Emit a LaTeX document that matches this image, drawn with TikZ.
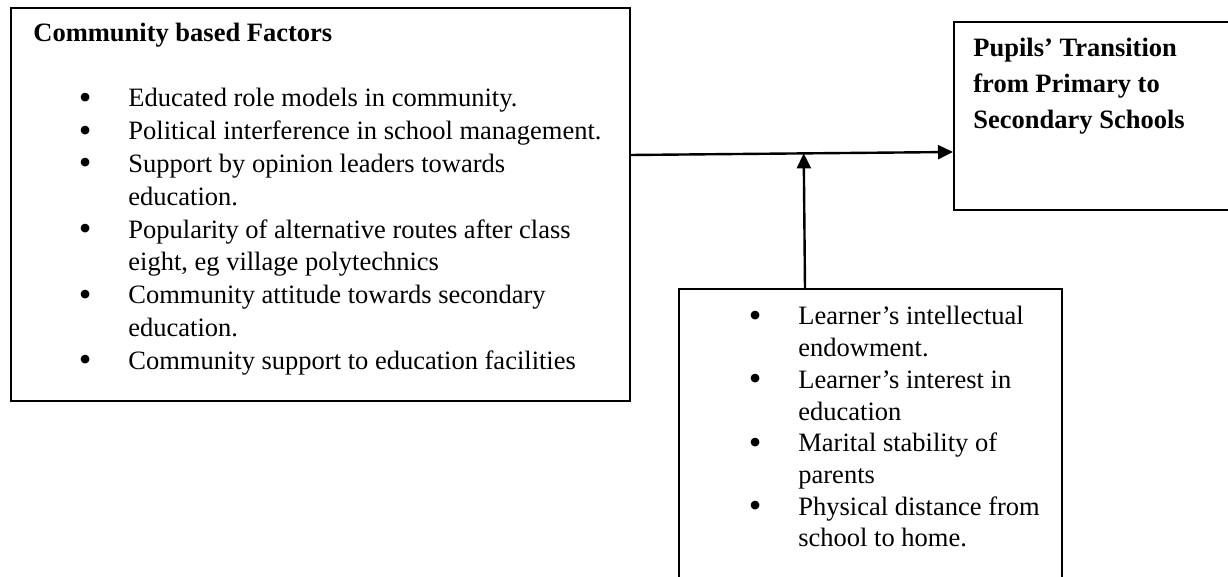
\documentclass[tikz,border=0pt]{standalone}
\usepackage{fontspec}
\setmainfont{Liberation Serif}
\usetikzlibrary{arrows.meta,calc}
\tikzset{
  box/.style={draw=black, line width=1pt, rectangle, inner sep=0pt, anchor=north west},
  txt/.style={anchor=base west, inner sep=0pt, align=flush left, text width=300pt},
  conn/.style={draw=black, line width=1.2pt, -{Triangle[length=7.5pt,width=7pt]}},
}
\newcommand{\bul}{\leavevmode\llap{\raisebox{-1.2pt}{\fontsize{18}{18}\selectfont\textbullet}\hspace{18.5pt}}}
\begin{document}
\begin{tikzpicture}[x=0.5pt,y=-0.5pt]
\useasboundingbox (0,0) rectangle (1228,577);
\clip (0,0) rectangle (1228,577);
% boxes
\node[box, minimum width=309.25pt, minimum height=196.5pt] (lbox) at (10,7.5) {};
\node[box, minimum width=143.5pt, minimum height=94pt] (rbox) at (953,21) {};
\node[box, minimum width=191.5pt, minimum height=160pt] (bbox) at (678,288) {};
% texts
\node[txt, font=\fontsize{13.25}{16.4}\selectfont\bfseries] (ltitle) at (33,42) {Community based Factors};
\node[txt, font=\fontsize{13.25}{16.4}\selectfont] (litems) at (128,107) {%
\bul Educated role models in community.\\
\bul Political interference in school management.\\
\bul Support by opinion leaders towards\\
education.\\
\bul Popularity of alternative routes after class\\
eight, eg village polytechnics\\
\bul Community attitude towards secondary\\
education.\\
\bul Community support to education facilities};
\node[txt, font=\fontsize{13.25}{18}\selectfont\bfseries] (rtext) at (973,57) {%
Pupils’ Transition\\
from Primary to\\
Secondary Schools};
\node[txt, font=\fontsize{13.25}{15.85}\selectfont] (bitems) at (798,325) {%
\bul Learner’s intellectual\\
endowment.\\
\bul Learner’s interest in\\
education\\
\bul Marital stability of\\
parents\\
\bul Physical distance from\\
school to home.};
% connectors
\coordinate (hs) at ([yshift=-73.75pt]lbox.north east);
\coordinate (he) at ([yshift=-65.5pt]rbox.north west);
\draw[conn] (hs) -- (he);
\coordinate (vs) at ([xshift=63.5pt]bbox.north west);
\coordinate (vj) at ($(hs)!(vs)!(he)$);
\draw[conn] (vs) -- (vj);
\end{tikzpicture}
\end{document}
